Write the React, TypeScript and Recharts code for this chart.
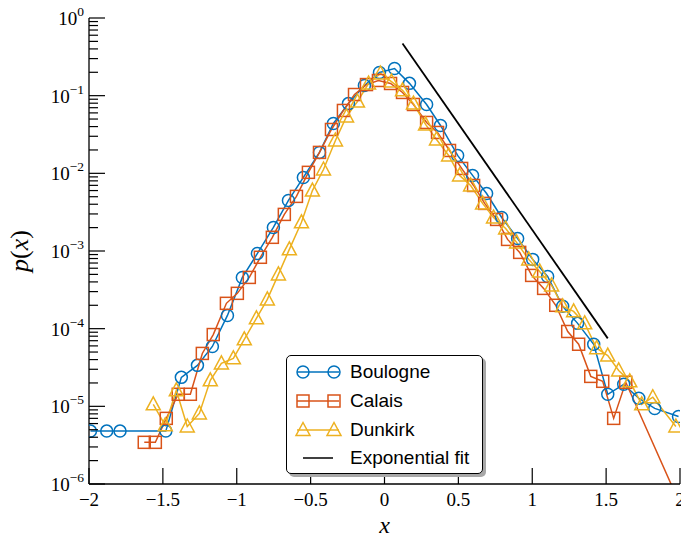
import React from "react";
import { Label, Legend, Line, LineChart, XAxis, YAxis } from "recharts";

// values
const boulogneX = [-1.99, -1.88, -1.79, -1.48, -1.375, -1.266, -1.165, -1.063, -0.962, -0.86, -0.752, -0.65, -0.549, -0.44, -0.346, -0.244, -0.136, -0.034, 0.068, 0.169, 0.285, 0.379, 0.495, 0.596, 0.691, 0.793, 0.901, 1.003, 1.104, 1.206, 1.307, 1.416, 1.511, 1.619, 1.721, 1.829, 1.99];
const boulogneY = [4.8e-6, 4.8e-6, 4.8e-6, 4.8e-6, 2.36e-5, 3.37e-5, 5.9e-5, 1.48e-4, 4.57e-4, 9.3e-4, 2.01e-3, 4.48e-3, 8.85e-3, 1.86e-2, 4.39e-2, 7.9e-2, 0.135, 0.199, 0.224, 0.144, 0.077, 0.0413, 0.017, 9.4e-3, 5.5e-3, 2.7e-3, 1.45e-3, 7.8e-4, 4.7e-4, 1.94e-4, 1.17e-4, 6.3e-5, 1.43e-5, 1.92e-5, 1.27e-5, 9.4e-6, 7.4e-6];

const calaisX = [-1.626, -1.551, -1.477, -1.396, -1.314, -1.233, -1.159, -1.07, -0.996, -0.915, -0.84, -0.759, -0.678, -0.596, -0.515, -0.44, -0.359, -0.278, -0.203, -0.122, -0.041, 0.041, 0.122, 0.196, 0.285, 0.359, 0.44, 0.522, 0.603, 0.678, 0.759, 0.833, 0.915, 0.996, 1.077, 1.159, 1.24, 1.314, 1.396, 1.477, 1.551, 1.633, 2.0];
const calaisY = [3.44e-6, 3.44e-6, 7.0e-6, 1.43e-5, 1.43e-5, 4.8e-5, 8.4e-5, 2.12e-4, 2.85e-4, 4.57e-4, 8.3e-4, 1.5e-3, 2.96e-3, 5.05e-3, 1.03e-2, 1.86e-2, 3.67e-2, 6.45e-2, 0.1035, 0.139, 0.157, 0.1435, 0.11, 0.077, 0.0452, 0.0336, 0.0197, 0.01156, 6.98e-3, 4.1e-3, 2.55e-3, 1.41e-3, 9.6e-4, 4.85e-4, 3.3e-4, 2.0e-4, 9.2e-5, 6.3e-5, 2.43e-5, 2.1e-5, 7.0e-6, 2.04e-5, 5.5e-7];

const dunkirkX = [-1.565, -1.484, -1.409, -1.335, -1.253, -1.179, -1.104, -1.023, -0.949, -0.867, -0.793, -0.718, -0.644, -0.562, -0.488, -0.413, -0.332, -0.257, -0.183, -0.108, -0.027, 0.047, 0.122, 0.196, 0.278, 0.352, 0.434, 0.508, 0.583, 0.664, 0.738, 0.82, 0.894, 0.976, 1.05, 1.131, 1.206, 1.28, 1.355, 1.436, 1.511, 1.585, 1.66, 1.741, 1.816, 1.972];
const dunkirkY = [1.06e-5, 5.7e-6, 1.61e-5, 5.5e-6, 8.1e-6, 2.16e-5, 3.57e-5, 4.15e-5, 7.3e-5, 1.36e-4, 2.38e-4, 5.0e-4, 1.05e-3, 2.34e-3, 6.0e-3, 1.12e-2, 2.65e-2, 5.4e-2, 8.4e-2, 0.1435, 0.193, 0.152, 0.117, 0.079, 0.0426, 0.0273, 0.017, 9.4e-3, 6.98e-3, 4.1e-3, 2.7e-3, 1.95e-3, 1.29e-3, 7.8e-4, 5.46e-4, 3.6e-4, 1.94e-4, 1.67e-4, 1.17e-4, 5.6e-5, 4.5e-5, 2.9e-5, 2.1e-5, 1.06e-5, 1.31e-5, 5.5e-6];

const fitX = [0.122, 1.511];
const fitY = [0.47, 7.5e-5];

const xTicks = [-2, -1.5, -1, -0.5, 0, 0.5, 1, 1.5, 2];
const yMajor = [1e-6, 1e-5, 1e-4, 1e-3, 1e-2, 1e-1, 1];
const minorSteps = [2, 3, 4, 5, 6, 7, 8, 9];
const yTicks = [...yMajor, ...yMajor.slice(0, -1).flatMap((d) => minorSteps.map((m) => m * d))];

const BLUE = "#0072BD";
const RED = "#D95319";
const YELLOW = "#EDB120";
const SERIF = '"Liberation Serif", "Times New Roman", serif';
const SANS = '"Liberation Sans", Arial, sans-serif';

const zip = (xs: number[], ys: number[]) => xs.map((x, i) => ({ x, y: ys[i] }));

const isMajor = (v: number) => yMajor.includes(v);
const fmtX = (v: number) => (v < 0 ? "\u2212" + Math.abs(v) : String(v));

function BottomTick(props: any) {
  const { x, y, payload } = props;
  return (
    <g>
      <line x1={x} x2={x} y1={y} y2={y - 16} stroke="#000" strokeWidth={1.2} />
      <text x={x} y={y + 22} textAnchor="middle" fontFamily={SERIF} fontSize={19} fill="#000">
        {fmtX(payload.value)}
      </text>
    </g>
  );
}

function TopTick(props: any) {
  const { x, y } = props;
  return <line x1={x} x2={x} y1={y} y2={y + 16} stroke="#000" strokeWidth={1.2} />;
}

function LeftTick(props: any) {
  const { x, y, payload } = props;
  const v = payload.value;
  const major = isMajor(v);
  const exp = Math.round(Math.log10(v));
  return (
    <g>
      <line x1={x} x2={x + (major ? 16 : 9)} y1={y} y2={y} stroke="#000" strokeWidth={1.2} />
      {major && (
        <text x={x - 5} y={y + 7} textAnchor="end" fontFamily={SERIF} fontSize={19} fill="#000">
          <tspan>10</tspan>
          <tspan dy={-9} fontSize={13.5}>
            {exp < 0 ? "\u2212" + Math.abs(exp) : String(exp)}
          </tspan>
        </text>
      )}
    </g>
  );
}

function RightTick(props: any) {
  const { x, y, payload } = props;
  const major = isMajor(payload.value);
  return <line x1={x} x2={x - (major ? 16 : 9)} y1={y} y2={y} stroke="#000" strokeWidth={1.2} />;
}

function SquareDot(props: any) {
  const { cx, cy, stroke, index } = props;
  if (cx == null || cy == null) return <g key={`s-${index}`} />;
  return (
    <rect key={`s-${index}`} x={cx - 6} y={cy - 6} width={12} height={12} fill="none" stroke={stroke} strokeWidth={1.5} />
  );
}

function TriangleDot(props: any) {
  const { cx, cy, stroke, index } = props;
  if (cx == null || cy == null) return <g key={`t-${index}`} />;
  return (
    <polygon
      key={`t-${index}`}
      points={`${cx},${cy - 7.5} ${cx - 7},${cy + 5.5} ${cx + 7},${cy + 5.5}`}
      fill="none"
      stroke={stroke}
      strokeWidth={1.5}
      strokeLinejoin="miter"
    />
  );
}

const legendRows = [
  { name: "Boulogne", color: BLUE, marker: "circle" },
  { name: "Calais", color: RED, marker: "square" },
  { name: "Dunkirk", color: YELLOW, marker: "triangle" },
  { name: "Exponential fit", color: "#000", marker: "none" },
];

function LegendMarker({ kind, color, cx }: { kind: string; color: string; cx: number }) {
  if (kind === "circle") return <circle cx={cx} cy={10} r={6} fill="none" stroke={color} strokeWidth={1.5} />;
  if (kind === "square")
    return <rect x={cx - 6} y={4} width={12} height={12} fill="none" stroke={color} strokeWidth={1.5} />;
  if (kind === "triangle")
    return (
      <polygon points={`${cx},${2.5} ${cx - 7},${15.5} ${cx + 7},${15.5}`} fill="none" stroke={color} strokeWidth={1.5} />
    );
  return null;
}

function LegendBox() {
  return (
    <div
      style={{
        position: "relative",
        width: 197,
        height: 119,
        boxSizing: "border-box",
        border: "1.5px solid #000",
        borderRadius: 5,
        background: "#fff",
        boxShadow: "3px 3px 0 #a8a8a8",
        fontFamily: SANS,
        fontSize: 19,
        color: "#000",
      }}
    >
      {legendRows.map((r, i) => (
        <div key={r.name} style={{ position: "absolute", left: 0, top: 5 + i * 28.8, height: 22, width: "100%" }}>
          <svg width={56} height={20} style={{ position: "absolute", left: 4, top: 1 }}>
            {r.marker === "none" ? (
              <line x1={12} x2={42} y1={10} y2={10} stroke={r.color} strokeWidth={1.5} />
            ) : (
              <>
                <line x1={6} x2={48} y1={10} y2={10} stroke={r.color} strokeWidth={1.5} />
                <LegendMarker kind={r.marker} color={r.color} cx={12} />
                <LegendMarker kind={r.marker} color={r.color} cx={43} />
              </>
            )}
          </svg>
          <span style={{ position: "absolute", left: 63, top: 0, lineHeight: "22px", whiteSpace: "nowrap" }}>{r.name}</span>
        </div>
      ))}
    </div>
  );
}

export default function App() {
  return (
    <div style={{ width: 681, height: 540 }}>
      <style>{"body{margin:0}"}</style>
      <LineChart width={681} height={540} margin={{ top: 18, right: 1, bottom: 0, left: 0 }}>
        <XAxis
          xAxisId="b"
          type="number"
          dataKey="x"
          domain={[-2, 2]}
          ticks={xTicks}
          interval={0}
          allowDataOverflow
          height={56}
          tickSize={0}
          tickMargin={0}
          tickLine={false}
          tick={<BottomTick />}
          axisLine={{ stroke: "#000", strokeWidth: 1.3 }}
        >
          <Label
            content={({ viewBox }: any) => (
              <text
                x={viewBox.x + viewBox.width / 2}
                y={viewBox.y + 49}
                textAnchor="middle"
                fontFamily={SERIF}
                fontStyle="italic"
                fontSize={24}
                fill="#000"
              >
                x
              </text>
            )}
          />
        </XAxis>
        <XAxis
          xAxisId="t"
          orientation="top"
          type="number"
          dataKey="x"
          domain={[-2, 2]}
          ticks={xTicks}
          interval={0}
          allowDataOverflow
          height={0}
          tickSize={0}
          tickMargin={0}
          tickLine={false}
          tick={<TopTick />}
          axisLine={{ stroke: "#000", strokeWidth: 1.3 }}
        />
        <YAxis
          yAxisId="l"
          type="number"
          scale="log"
          domain={[1e-6, 1]}
          ticks={yTicks}
          interval={0}
          allowDataOverflow
          width={89}
          tickSize={0}
          tickMargin={0}
          tickLine={false}
          tick={<LeftTick />}
          axisLine={{ stroke: "#000", strokeWidth: 1.3 }}
        >
          <Label
            content={({ viewBox }: any) => {
              const cx = viewBox.x + 28;
              const cy = viewBox.y + viewBox.height / 2;
              return (
                <text
                  x={cx}
                  y={cy}
                  transform={`rotate(-90 ${cx} ${cy})`}
                  textAnchor="middle"
                  fontFamily={SERIF}
                  fontSize={26}
                  fill="#000"
                >
                  <tspan fontStyle="italic">p</tspan>
                  <tspan>(</tspan>
                  <tspan fontStyle="italic">x</tspan>
                  <tspan>)</tspan>
                </text>
              );
            }}
          />
        </YAxis>
        <YAxis
          yAxisId="r"
          orientation="right"
          type="number"
          scale="log"
          domain={[1e-6, 1]}
          ticks={yTicks}
          interval={0}
          allowDataOverflow
          width={0}
          tickSize={0}
          tickMargin={0}
          tickLine={false}
          tick={<RightTick />}
          axisLine={{ stroke: "#000", strokeWidth: 1.3 }}
        />
        <Legend
          layout="vertical"
          align="center"
          verticalAlign="middle"
          wrapperStyle={{ left: 286, top: 355, width: 200, height: 122 }}
          content={() => <LegendBox />}
        />
        <Line
          xAxisId="b"
          yAxisId="l"
          data={zip(boulogneX, boulogneY)}
          dataKey="y"
          name="Boulogne"
          type="linear"
          stroke={BLUE}
          strokeWidth={1.5}
          dot={{ r: 6, fill: "none", stroke: BLUE, strokeWidth: 1.5 }}
          activeDot={false}
          isAnimationActive={false}
        />
        <Line
          xAxisId="b"
          yAxisId="l"
          data={zip(calaisX, calaisY)}
          dataKey="y"
          name="Calais"
          type="linear"
          stroke={RED}
          strokeWidth={1.5}
          dot={(p: any) => <SquareDot {...p} key={`s-${p.index}`} />}
          activeDot={false}
          isAnimationActive={false}
        />
        <Line
          xAxisId="b"
          yAxisId="l"
          data={zip(dunkirkX, dunkirkY)}
          dataKey="y"
          name="Dunkirk"
          type="linear"
          stroke={YELLOW}
          strokeWidth={1.5}
          dot={(p: any) => <TriangleDot {...p} key={`t-${p.index}`} />}
          activeDot={false}
          isAnimationActive={false}
        />
        <Line
          xAxisId="b"
          yAxisId="l"
          data={zip(fitX, fitY)}
          dataKey="y"
          name="Exponential fit"
          type="linear"
          stroke="#000"
          strokeWidth={1.8}
          dot={false}
          activeDot={false}
          isAnimationActive={false}
        />
      </LineChart>
    </div>
  );
}
